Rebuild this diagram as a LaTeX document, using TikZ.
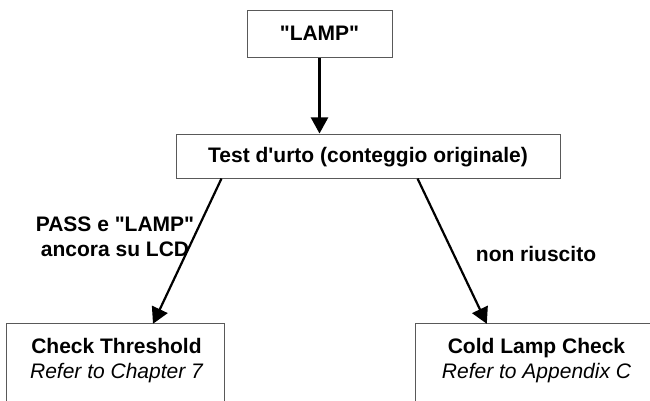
\documentclass[tikz,border=0pt]{standalone}
\usepackage{fontspec}
\newfontfamily\arialf{Liberation Sans}
\usetikzlibrary{arrows.meta}
\begin{document}
\begin{tikzpicture}[x=1pt,y=-1pt,
  boxline/.style={draw=black!65, line width=1pt},
  box/.style={boxline, inner sep=0pt, text height=15pt, text depth=2.6pt},
  txt/.style={font=\arialf\fontsize{21}{25}\selectfont\bfseries, inner sep=0pt},
  itl/.style={},
  arr/.style={line width=2.2pt, -{Triangle[width=17pt,length=16pt]}}]
\useasboundingbox (0,0) rectangle (650,401);
% boxes
\node[box, txt, minimum width=145pt, minimum height=47pt] (top) at (319.5,34.5) {"LAMP"};
\node[box, txt, minimum width=384pt, minimum height=44pt] (mid) at (368,156) {Test d'urto (conteggio originale)};
\node[inner sep=0pt, minimum width=217pt, minimum height=77pt] (lb) at (115.5,362.5) {};
\node[inner sep=0pt, minimum width=240pt, minimum height=77pt] (rb) at (536,362.5) {};
\draw[boxline] (lb.south west) -- (lb.north west) -- (lb.north east) -- (lb.south east);
\draw[boxline] (rb.south west) -- (rb.north west) -- ++(234,0);
% box texts
\node[txt, align=center] (lbtext) at (116.5,360.2) {Check Threshold\\\normalfont\arialf\fontsize{21}{25}\selectfont\itshape Refer to Chapter 7};
\node[txt, align=center] (rbtext) at (536.5,360.2) {Cold Lamp Check\\\normalfont\arialf\fontsize{21}{25}\selectfont\itshape Refer to Appendix C};
% labels
\node[txt, align=center] (lab1) at (115,237) {PASS e "LAMP"\\ancora su LCD};
\node[txt, anchor=base] (lab2) at (536,261.7) {non riuscito};
% arrows
\draw[arr] (top.south) -- (top.south |- mid.north);
\draw[arr] ([xshift=46pt]mid.south west) -- ([xshift=37.5pt]lb.north);
\draw[arr] ([xshift=-143pt]mid.south east) -- ([xshift=71pt]rb.north west);
\end{tikzpicture}
\end{document}
